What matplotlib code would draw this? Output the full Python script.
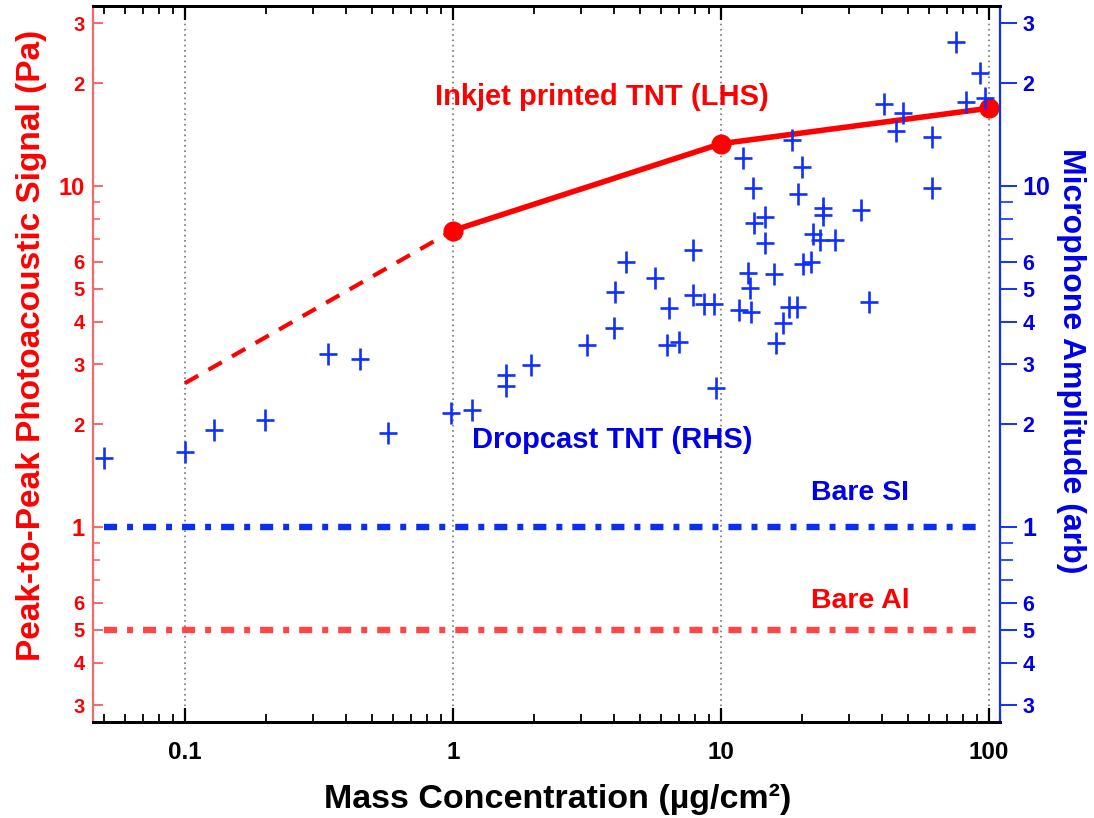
import matplotlib
matplotlib.use("Agg")
import matplotlib.pyplot as plt
from matplotlib.path import Path
from matplotlib.ticker import FixedLocator, NullFormatter, FixedFormatter

plt.rcParams['font.family'] = ['Liberation Sans', 'DejaVu Sans']
plt.rcParams['font.weight'] = 'bold'
plt.rcParams['lines.scale_dashes'] = False

# ---- data ----
inkjet_x = [1, 10, 100]
inkjet_y = [7.4, 13.3, 16.9]
extrap_x = [0.1, 1]
extrap_y = [2.64, 7.4]

drop_x = [0.050, 0.100, 0.128, 0.199, 0.342, 0.450, 0.571, 0.98, 1.18, 1.58, 1.58,
          1.95, 3.16, 3.99, 4.03, 4.43, 5.67, 6.4, 6.3, 6.97, 7.87, 7.87, 8.65, 9.42,
          9.6, 12.1, 13.2, 13.3, 14.6, 14.6, 12.6, 12.8, 11.7, 13.0, 15.8, 17.0, 16.0,
          17.9, 19.2, 18.4, 20.0, 19.4, 24.0, 24.0, 22.0, 23.5, 26.6, 20.2, 21.7, 33.3,
          35.6, 61.2, 61.2, 45.0, 47.7, 40.5, 75.3, 92.5, 82.0, 96.6]
drop_y = [1.59, 1.66, 1.92, 2.06, 3.22, 3.11, 1.89, 2.16, 2.20, 2.79, 2.59,
          2.99, 3.42, 3.83, 4.89, 5.98, 5.37, 4.39, 3.42, 3.49, 6.49, 4.79, 4.51, 4.51,
          2.56, 12.1, 9.87, 7.79, 8.11, 6.81, 5.56, 5.02, 4.33, 4.27, 5.52, 3.97, 3.46,
          4.42, 4.42, 13.6, 11.4, 9.48, 8.62, 8.22, 7.23, 6.95, 6.95, 5.91, 5.98, 8.51,
          4.57, 13.9, 9.87, 14.5, 16.4, 17.4, 26.4, 21.4, 17.6, 18.1]

bare_x = [0.05, 97]
bare_si_y = [1.0, 1.0]
bare_al_y = [0.5, 0.5]

x_major = [0.1, 1, 10, 100]
x_major_labels = ['0.1', '1', '10', '100']
y_labeled = [0.3, 0.4, 0.5, 0.6, 1, 2, 3, 4, 5, 6, 10, 20, 30]
y_labels = ['3', '4', '5', '6', '1', '2', '3', '4', '5', '6', '10', '2', '3']
y_unlabeled = [0.7, 0.8, 0.9, 7, 8, 9]

RED = '#ff0000'
RED_SPINE = '#f26a6a'
BLUE = '#1030ff'
BLUE_TXT = '#0000e8'

fig = plt.figure(figsize=(10.94, 8.18), dpi=100)
ax = fig.add_axes([93/1094, 1-722/818, (1000-93)/1094, (722-6)/818])
ax2 = ax.twinx()

for a in (ax, ax2):
    a.set_xscale('log')
    a.set_yscale('log')
    a.set_xlim(0.0454, 110)
    a.set_ylim(0.268, 33.7)

# vertical grid
for xv in x_major:
    ax.axvline(xv, color='#888888', lw=1.4, ls=(0, (1.2, 2.6)), zorder=0)

# red inkjet line
ax.plot(inkjet_x, inkjet_y, color=RED, lw=4.0, marker='o', ms=13.5, zorder=5)
ax.plot(extrap_x, extrap_y, color=RED, lw=3.0, ls=(0, (11, 8.5)), zorder=5)

# bare lines
dashdot = (0, (9.4, 7.2, 4.3, 7.2))
ax.plot(bare_x, bare_si_y, color='#0a2ff0', lw=4.6, ls=dashdot, zorder=4)
ax.plot(bare_x, bare_al_y, color='#ff4545', lw=4.6, ls=dashdot, zorder=4)

# dropcast markers (slightly taller than wide)
plus = Path([(-0.77, 0), (0.77, 0), (0, -1), (0, 1)],
            [Path.MOVETO, Path.LINETO, Path.MOVETO, Path.LINETO])
ax2.plot(drop_x, drop_y, ls='none', marker=plus, ms=16, mew=1.9,
         color=BLUE, zorder=6)

# text annotations
ax.text(3.6, 18.2, 'Inkjet printed TNT (LHS)', color=RED, fontsize=21,
        fontweight='bold', ha='center', va='center')
ax.text(3.92, 1.8, 'Dropcast TNT (RHS)', color=BLUE_TXT, fontsize=21,
        fontweight='bold', ha='center', va='center')
ax.text(33, 1.26, 'Bare SI', color=BLUE_TXT, fontsize=20.5,
        fontweight='bold', ha='center', va='center')
ax.text(33, 0.607, 'Bare Al', color=RED, fontsize=20.5,
        fontweight='bold', ha='center', va='center')

# x ticks
ax.xaxis.set_major_locator(FixedLocator(x_major))
ax.set_xticklabels(x_major_labels)
ax.tick_params(axis='x', which='major', direction='in', length=10, width=1.6,
               top=True, labelsize=17.5, pad=14, colors='black')
ax.tick_params(axis='x', which='minor', direction='in', length=6, width=1.3,
               top=True)

# y ticks
for a in (ax, ax2):
    a.yaxis.set_major_locator(FixedLocator(y_labeled))
    a.yaxis.set_major_formatter(FixedFormatter(y_labels))
    a.yaxis.set_minor_locator(FixedLocator(y_unlabeled))
    a.yaxis.set_minor_formatter(NullFormatter())

ax.tick_params(axis='y', which='major', direction='in', length=7, width=1.4,
               color=RED_SPINE, labelcolor=RED, labelsize=14.5, pad=6)
ax.tick_params(axis='y', which='minor', direction='in', length=5, width=1.2,
               color=RED_SPINE)
ax2.tick_params(axis='y', which='major', direction='out', length=12, width=1.4,
                color=BLUE, labelcolor=BLUE_TXT, labelsize=15.5, pad=4)
ax2.tick_params(axis='y', which='minor', direction='out', length=9, width=1.2,
                color=BLUE)
ax2.tick_params(axis='x', which='both', top=False, bottom=False, labelbottom=False)

for lab in ax.get_yticklabels() + ax2.get_yticklabels() + ax.get_xticklabels():
    lab.set_fontweight('bold')
for lab in ax.get_yticklabels():
    if lab.get_text() in ('1', '10'):
        lab.set_fontsize(17)
for lab in ax2.get_yticklabels():
    if lab.get_text() in ('1', '10'):
        lab.set_fontsize(18)

# axis titles
fig.text(32/1094, 1-345/818, 'Peak-to-Peak Photoacoustic Signal (Pa)', color=RED,
         fontsize=24, fontweight='bold', rotation=90, ha='center', va='center')
fig.text(1071/1094, 1-361/818, 'Microphone Amplitude (arb)', color=BLUE_TXT,
         fontsize=23, fontweight='bold', rotation=-90, ha='center', va='center')
fig.text(558/1094, 1-799/818, 'Mass Concentration (µg/cm²)', color='black',
         fontsize=24.5, fontweight='bold', ha='center', va='center')

# spines
for a in (ax, ax2):
    a.spines['top'].set_color('black')
    a.spines['top'].set_linewidth(2)
    a.spines['bottom'].set_color('black')
    a.spines['bottom'].set_linewidth(2)
ax.spines['left'].set_color(RED_SPINE)
ax.spines['left'].set_linewidth(1.6)
ax2.spines['left'].set_visible(False)
ax.spines['right'].set_visible(False)
ax2.spines['right'].set_color(BLUE)
ax2.spines['right'].set_linewidth(1.6)

fig.savefig('out.png', dpi=100)
